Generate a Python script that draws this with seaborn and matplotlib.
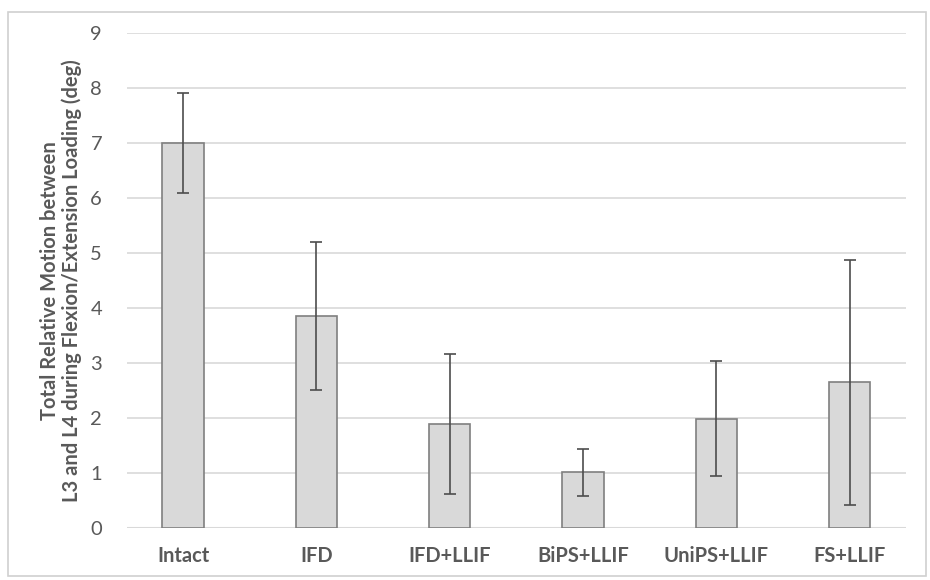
import matplotlib
matplotlib.use('Agg')
import matplotlib.pyplot as plt
import seaborn as sns
import pandas as pd
from matplotlib.patches import Rectangle

# Données
categories = ['Intact', 'IFD', 'IFD+LLIF', 'BiPS+LLIF', 'UniPS+LLIF', 'FS+LLIF']
mean_motion = [7.0, 3.85, 1.89, 1.01, 1.99, 2.65]
sd_motion = [0.91, 1.35, 1.27, 0.42, 1.05, 2.23]
y_ticks = [0, 1, 2, 3, 4, 5, 6, 7, 8, 9]

df = pd.DataFrame({'group': categories, 'motion': mean_motion, 'sd': sd_motion})

sns.set_style('white')
plt.rcParams['font.family'] = ['Lato', 'DejaVu Sans']

text_color = '#595959'
grid_color = '#d9d9d9'

fig = plt.figure(figsize=(9.3, 5.8), dpi=100)
ax = fig.add_axes([0.1366, 0.0897, 0.974 - 0.1366, 0.943 - 0.0897])

sns.barplot(data=df, x='group', y='motion', order=categories, color='#d9d9d9',
            saturation=1, width=0.31, edgecolor='#7f7f7f', linewidth=1.2,
            errorbar=None, ax=ax, zorder=2)

# Barres d'erreur (écart-type)
ax.errorbar(range(len(categories)), df['motion'], yerr=df['sd'], fmt='none',
            ecolor='#4d4d4d', elinewidth=1.2, capsize=4, capthick=1.2, zorder=3)

ax.set_ylim(0, 9)
ax.set_yticks(y_ticks)
ax.yaxis.grid(True, color=grid_color, linewidth=1.2, zorder=0)
ax.set_axisbelow(True)
for side in ['top', 'right', 'left', 'bottom']:
    ax.spines[side].set_visible(False)
ax.axhline(0, color=grid_color, linewidth=1.5, zorder=1)

ax.tick_params(axis='y', length=0, pad=18, labelsize=14.5, labelcolor=text_color)
ax.tick_params(axis='x', length=0, pad=13, labelsize=14.5, labelcolor=text_color)
for lbl in ax.get_xticklabels():
    lbl.set_fontweight('bold')

ax.set_xlabel('')
ax.set_ylabel('Total Relative Motion between\nL3 and L4 during Flexion/Extension Loading (deg)',
              fontsize=14.5, fontweight='bold', color=text_color, labelpad=6,
              linespacing=1.1)

# Cadre du graphique
fig.patches.append(Rectangle((8 / 930, 4 / 580), 1 - 12 / 930, 1 - 16 / 580,
                             transform=fig.transFigure, fill=False,
                             edgecolor='#d0d0d0', linewidth=1.2))

plt.savefig('out.png', dpi=100, facecolor='white')
plt.close()
